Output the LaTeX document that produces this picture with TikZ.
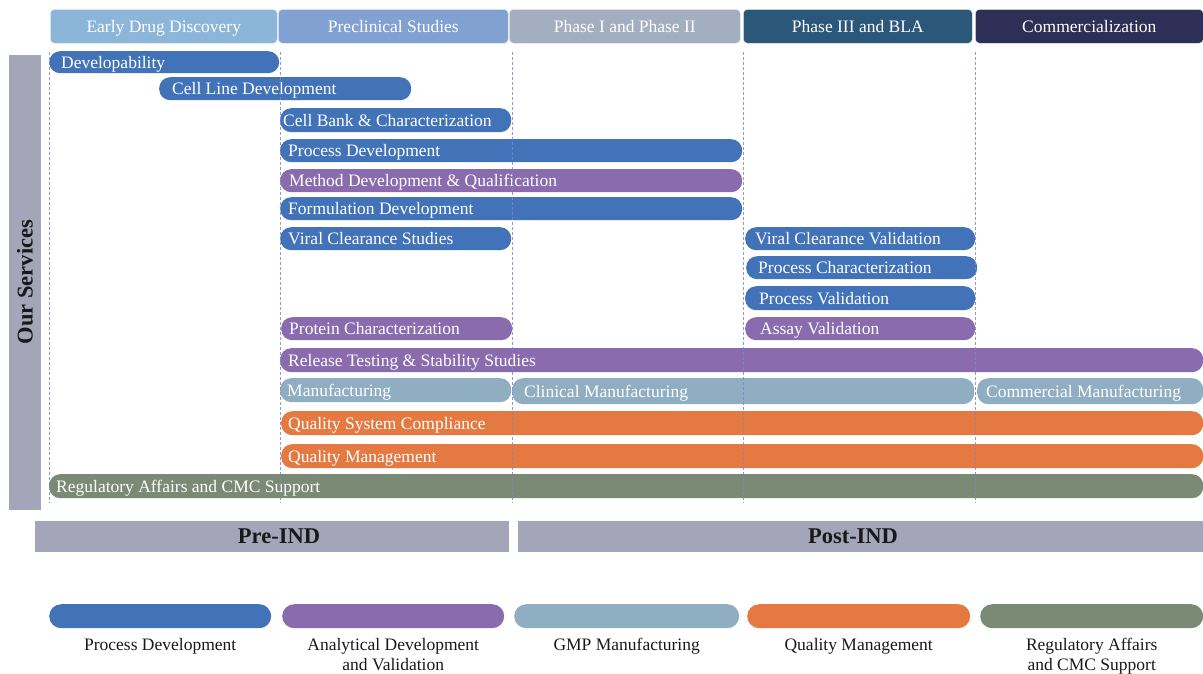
\documentclass[tikz,border=0pt]{standalone}
\usepackage{fontspec}
\setmainfont{Liberation Serif}
\definecolor{cblue}{HTML}{4273B9}
\definecolor{cpurple}{HTML}{8A6BAE}
\definecolor{cgmp}{HTML}{90AEC2}
\definecolor{corange}{HTML}{E47A42}
\definecolor{cgreen}{HTML}{7A8A74}
\definecolor{hA}{HTML}{8BB6DA}
\definecolor{hB}{HTML}{80A1D1}
\definecolor{hC}{HTML}{A3AEC0}
\definecolor{hD}{HTML}{2B577B}
\definecolor{hE}{HTML}{2E2F56}
\definecolor{cgray}{HTML}{A4A5B8}
\definecolor{cdash}{HTML}{7F86C8}
\newcommand{\pill}[8]{%
  \node[pillbox, fill=#2, minimum width={#4-#3}, minimum height={#6-#5}, anchor=north west] (#1) at (#3,#5) {};
  \node[lbl, anchor=west] (#1-t) at ({#7},{(#5+#6)/2}) {#8};}
\begin{document}
\begin{tikzpicture}[x=1pt,y=-1pt,
  pillbox/.style={rectangle, rounded corners=11pt, inner sep=0pt, draw=none},
  lbl/.style={font=\fontsize{17.5}{20}\selectfont, text=white, inner sep=0pt, text height=12pt, text depth=0pt},
  hdr/.style={rectangle, rounded corners=4pt, draw=white!85!gray, line width=0.6pt, inner sep=0pt, minimum height=34pt, anchor=north west, font=\fontsize{17.5}{20}\selectfont, text=white, text height=12pt, text depth=0pt},
  graybar/.style={fill=cgray, draw=none, inner sep=0pt},
  bigtxt/.style={font=\fontsize{22.5}{26}\selectfont\bfseries, text=black!90, inner sep=0pt, text height=13pt, text depth=0pt},
  legpill/.style={rectangle, rounded corners=12pt, inner sep=0pt, minimum height=24pt, anchor=north west},
  legtxt/.style={font=\fontsize{17.5}{20}\selectfont, text=black!90, inner sep=0pt, align=center, anchor=north},
  phase/.style={draw=cdash, opacity=0.85, line width=0.9pt, dash pattern=on 3pt off 2pt}]
\useasboundingbox (0,0) rectangle (1203,673);

% Headers
\node[hdr, fill=hA, minimum width=227pt] (h1) at (50,9) {Early Drug Discovery};
\node[hdr, fill=hB, minimum width=230pt] (h2) at (278,9) {Preclinical Studies};
\node[hdr, fill=hC, minimum width=231pt] (h3) at (509,9) {Phase I and Phase II};
\node[hdr, fill=hD, minimum width=229pt] (h4) at (743,9) {Phase III and BLA};
\node[hdr, fill=hE, minimum width=228pt] (h5) at (975,9) {Commercialization};

% Our Services bar
\node[graybar, minimum width=32pt, minimum height=455pt, anchor=north west] (os) at (9,55) {};
\node[bigtxt, rotate=90, text height=15pt] (os-t) at (25,282) {Our Services};

% Bars
\pill{dev}{cblue}{49}{279}{51}{73}{61}{Developability}
\pill{cld}{cblue}{159}{411}{77}{100}{172}{Cell Line Development}
\pill{cbc}{cblue}{280}{511}{108}{132}{283}{Cell Bank \& Characterization}
\pill{pd}{cblue}{280}{742}{139}{162}{288}{Process Development}
\pill{mdq}{cpurple}{280}{742}{169}{192}{289}{Method Development \& Qualification}
\pill{fd}{cblue}{280}{742}{197}{220}{288}{Formulation Development}
\pill{vcs}{cblue}{280}{511}{227}{250}{288}{Viral Clearance Studies}
\pill{vcv}{cblue}{745}{975}{227}{250}{755}{Viral Clearance Validation}
\pill{pc}{cblue}{746}{977}{256}{279}{758}{Process Characterization}
\pill{pv}{cblue}{745}{975}{286}{310}{759}{Process Validation}
\pill{prc}{cpurple}{281}{512}{317}{340}{289}{Protein Characterization}
\pill{av}{cpurple}{745}{975}{317}{340}{760}{Assay Validation}
\pill{rts}{cpurple}{280}{1203}{348}{372}{288}{Release Testing \& Stability Studies}
\pill{man}{cgmp}{280}{511}{378}{402}{287}{Manufacturing}
\pill{clm}{cgmp}{512}{974}{378}{404}{524}{Clinical Manufacturing}
\pill{com}{cgmp}{977}{1203}{378}{404}{986}{Commercial Manufacturing}
\pill{qsc}{corange}{281}{1203}{411}{435}{288}{Quality System Compliance}
\pill{qm}{corange}{281}{1203}{444}{468}{288}{Quality Management}
\pill{ra}{cgreen}{49}{1203}{474}{498}{56}{Regulatory Affairs and CMC Support}

% Phase divider lines
\foreach \i/\x in {1/49,2/280,3/512,4/743,5/975}{
  \coordinate (d\i a) at (\x,52);
  \coordinate (d\i b) at (\x,503);
  \draw[phase] (d\i a) -- (d\i b);
}

% IND bars
\node[graybar, minimum width=474pt, minimum height=31pt, anchor=north west] (pre) at (35,521) {};
\node[bigtxt] (pre-t) at (279,536.5) {Pre-IND};
\node[graybar, minimum width=685pt, minimum height=31pt, anchor=north west] (post) at (518,521) {};
\node[bigtxt] (post-t) at (853,536.5) {Post-IND};

% Legend
\node[legpill, fill=cblue, minimum width=222pt] (l1) at (49,604) {};
\node[legpill, fill=cpurple, minimum width=222pt] (l2) at (282,604) {};
\node[legpill, fill=cgmp, minimum width=225pt] (l3) at (514,604) {};
\node[legpill, fill=corange, minimum width=223pt] (l4) at (747,604) {};
\node[legpill, fill=cgreen, minimum width=223pt] (l5) at (980,604) {};
\node[legtxt] (l1-t) at (l1.center |- 0,638) {Process Development};
\node[legtxt] (l2-t) at (l2.center |- 0,638) {Analytical Development\\and Validation};
\node[legtxt] (l3-t) at (l3.center |- 0,638) {GMP Manufacturing};
\node[legtxt] (l4-t) at (l4.center |- 0,638) {Quality Management};
\node[legtxt] (l5-t) at (l5.center |- 0,638) {Regulatory Affairs\\and CMC Support};
\end{tikzpicture}
\end{document}
